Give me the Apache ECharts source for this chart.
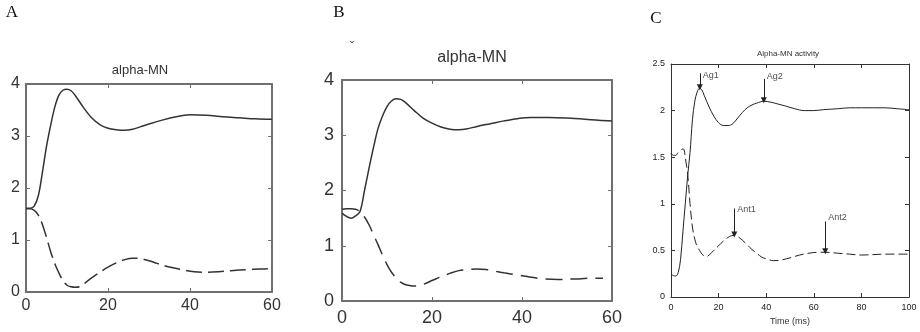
<!DOCTYPE html>
<html>
<head>
<meta charset="utf-8">
<script src="https://cdn.jsdelivr.net/npm/echarts@6/dist/echarts.min.js"></script>
<style>
  html, body { margin: 0; padding: 0; background: #fff; }
  #main { width: 920px; height: 332px; }
</style>
</head>
<body>
<div id="main"></div>
<script>
// panel A (0..60 ms)
const aX       = [0, 1, 2, 3, 4, 5, 6, 7, 8, 9, 10, 11, 12, 14, 16, 18, 20, 22, 24, 26, 28, 30, 33, 36, 40, 44, 48, 52, 56, 60]
const aSolid   = [1.61, 1.61, 1.65, 1.85, 2.3, 2.8, 3.2, 3.55, 3.78, 3.88, 3.9, 3.87, 3.78, 3.55, 3.35, 3.22, 3.15, 3.12, 3.11, 3.13, 3.18, 3.23, 3.3, 3.36, 3.41, 3.4, 3.37, 3.35, 3.33, 3.32]
const aDashX   = [0, 1, 2, 3, 4, 5, 6, 7, 8, 9, 10, 11, 12, 13, 14, 16, 18, 20, 22, 24, 26, 28, 30, 32, 35, 38, 41, 44, 47, 50, 54, 57, 60]
const aDashed  = [1.6, 1.6, 1.57, 1.48, 1.3, 1.05, 0.78, 0.55, 0.37, 0.22, 0.13, 0.1, 0.09, 0.1, 0.15, 0.27, 0.38, 0.48, 0.56, 0.62, 0.65, 0.64, 0.6, 0.55, 0.48, 0.43, 0.39, 0.38, 0.39, 0.41, 0.43, 0.44, 0.45]

// panel B (0..60 ms)
const bX       = [0, 1, 2, 3, 4, 5, 6, 7, 8, 9, 10, 11, 12, 13, 14, 16, 18, 20, 22, 24, 26, 28, 30, 33, 36, 39, 42, 46, 50, 54, 57, 60]
const bSolid   = [1.59, 1.53, 1.5, 1.54, 1.62, 2.0, 2.4, 2.78, 3.12, 3.35, 3.52, 3.62, 3.66, 3.65, 3.6, 3.45, 3.31, 3.22, 3.15, 3.11, 3.1, 3.12, 3.16, 3.21, 3.26, 3.3, 3.32, 3.32, 3.31, 3.29, 3.27, 3.26]
const bDashX   = [0, 1, 2, 3, 4, 5, 6, 7, 8, 9, 10, 11, 12, 13, 14, 15, 16, 18, 20, 22, 24, 26, 28, 30, 32, 34, 36, 39, 42, 45, 48, 52, 55, 58]
const bDashed  = [1.66, 1.67, 1.67, 1.66, 1.62, 1.52, 1.38, 1.2, 1.02, 0.83, 0.66, 0.52, 0.42, 0.34, 0.3, 0.28, 0.27, 0.3, 0.37, 0.44, 0.5, 0.55, 0.57, 0.58, 0.57, 0.54, 0.51, 0.47, 0.43, 0.4, 0.39, 0.4, 0.41, 0.41]

// panel C (0..100 ms)
const cX       = [0, 1, 2, 3, 4, 5, 6, 7, 8, 9, 10, 11, 12, 13, 14, 16, 18, 20, 22, 24, 26, 28, 30, 32, 34, 36, 39, 42, 45, 48, 52, 56, 60, 64, 70, 75, 80, 90, 95, 100]
const cSolid   = [0.24, 0.23, 0.225, 0.26, 0.4, 0.7, 1.0, 1.3, 1.55, 1.9, 2.1, 2.2, 2.24, 2.22, 2.16, 2.04, 1.94, 1.87, 1.84, 1.84, 1.86, 1.92, 1.98, 2.03, 2.06, 2.08, 2.1, 2.09, 2.07, 2.05, 2.02, 2.0, 2.0, 2.01, 2.02, 2.03, 2.03, 2.03, 2.02, 2.01]
const cDashX   = [0, 1, 2, 3, 4, 5, 5.5, 6, 7, 8, 9, 10, 11, 12, 13, 14, 15, 16, 18, 20, 22, 24, 26, 27, 28, 30, 32, 34, 36, 38, 40, 43, 46, 50, 54, 58, 62, 65, 70, 75, 80, 90, 100]
const cDashed  = [1.54, 1.52, 1.52, 1.55, 1.57, 1.59, 1.58, 1.5, 1.32, 1.0, 0.75, 0.62, 0.54, 0.5, 0.46, 0.44, 0.435, 0.45, 0.5, 0.55, 0.6, 0.64, 0.66, 0.66, 0.65, 0.61, 0.56, 0.51, 0.47, 0.43, 0.41, 0.39, 0.395, 0.42, 0.45, 0.47, 0.48, 0.48, 0.47, 0.46, 0.45, 0.46, 0.46]

// arrows in panel C
const arrowNames = ['Ag1', 'Ag2', 'Ant1', 'Ant2']
const arrowX     = [12.1, 39, 26.6, 64.8]
const arrowTop   = [2.4, 2.34, 0.95, 0.81]
const arrowTip   = [2.25, 2.11, 0.67, 0.49]
const arrowLabelY = [2.38, 2.37, 0.94, 0.85]

const zip = (xs, ys) => xs.map((x, i) => [x, ys[i]])

const sans = '"Liberation Sans", Arial, sans-serif'

// one framed box per panel: bottom/left axes with labels, top/right without
function boxAxes(grid, xMax, xStep, yMax, yStep, s) {
  const line = { show: true, onZero: false, lineStyle: { color: s.axisColor, width: s.axisWidth } }
  const tick = { show: true, inside: true, length: s.tickLen, lineStyle: { color: s.axisColor, width: 1 } }
  const label = { color: s.labelColor, fontFamily: sans, fontSize: s.fontSize, margin: s.margin }
  const base = { type: 'value', gridIndex: grid, splitLine: { show: false }, axisLine: line, axisTick: tick }
  return {
    x: [
      Object.assign({}, base, { position: 'bottom', min: 0, max: xMax, interval: xStep, axisLabel: label,
        name: s.xName || '', nameLocation: 'middle', nameGap: 20,
        nameTextStyle: { fontFamily: sans, fontSize: 9, color: '#333' } }),
      Object.assign({}, base, { position: 'top', min: 0, max: xMax, interval: xStep, axisLabel: { show: false } })
    ],
    y: [
      Object.assign({}, base, { position: 'left', min: 0, max: yMax, interval: yStep, axisLabel: label }),
      Object.assign({}, base, { position: 'right', min: 0, max: yMax, interval: yStep, axisLabel: { show: false } })
    ]
  }
}

const styleAB = { axisColor: '#707070', axisWidth: 2, tickLen: 4, labelColor: '#333', fontSize: 16, margin: 6 }
const boxA = boxAxes(0, 60, 20, 4, 1, styleAB)
const boxB = boxAxes(1, 60, 20, 4, 1, Object.assign({}, styleAB, { fontSize: 18, margin: 8 }))
const boxC = boxAxes(2, 100, 20, 2.5, 0.5, { axisColor: '#333', axisWidth: 1, tickLen: 4, labelColor: '#222', fontSize: 9, margin: 6, xName: 'Time (ms)' })

const curve = (name, xi, yi, data, color, width, type) => ({
  name, type: 'line', xAxisIndex: xi, yAxisIndex: yi, data,
  smooth: 0.35, showSymbol: false, symbol: 'none',
  lineStyle: { color, width, type }
})

const myChart = echarts.init(document.getElementById('main'), null, { renderer: 'canvas' })

const arrowLines = arrowNames.map((n, i) => [
  { coord: [arrowX[i], arrowTop[i]] },
  { coord: [arrowX[i], arrowTip[i]] }
])

const option = {
  animation: false,
  backgroundColor: '#fff',
  grid: [
    { left: 26, top: 84, width: 246, height: 208 },
    { left: 342, top: 80, width: 270, height: 221 },
    { left: 671, top: 64, width: 238, height: 233 }
  ],
  xAxis: [...boxA.x, ...boxB.x, ...boxC.x],
  yAxis: [...boxA.y, ...boxB.y, ...boxC.y],
  graphic: [
    { type: 'text', x: 12, y: 13, style: { text: 'A', font: '17px "Liberation Serif", serif', fill: '#111', align: 'center', verticalAlign: 'middle' } },
    { type: 'text', x: 339, y: 13, style: { text: 'B', font: '17px "Liberation Serif", serif', fill: '#111', align: 'center', verticalAlign: 'middle' } },
    { type: 'text', x: 656, y: 19, style: { text: 'C', font: '17px "Liberation Serif", serif', fill: '#111', align: 'center', verticalAlign: 'middle' } },
    { type: 'text', x: 352, y: 48, style: { text: 'ˇ', font: '12px "Liberation Sans", sans-serif', fill: '#444', align: 'center', verticalAlign: 'middle' } },
    { type: 'text', x: 140, y: 70, style: { text: 'alpha-MN', font: '13px "Liberation Sans", sans-serif', fill: '#333', align: 'center', verticalAlign: 'middle' } },
    { type: 'text', x: 472, y: 58, style: { text: 'alpha-MN', font: '16px "Liberation Sans", sans-serif', fill: '#333', align: 'center', verticalAlign: 'middle' } },
    { type: 'text', x: 788, y: 54, style: { text: 'Alpha-MN activity', font: '8px ' + sans, fill: '#333', align: 'center', verticalAlign: 'middle' } }
  ],
  series: [
    curve('A agonist', 0, 0, zip(aX, aSolid), '#333', 1.5, 'solid'),
    curve('A antagonist', 0, 0, zip(aDashX, aDashed), '#333', 1.5, [16, 6]),
    curve('B agonist', 2, 2, zip(bX, bSolid), '#333', 1.5, 'solid'),
    curve('B antagonist', 2, 2, zip(bDashX, bDashed), '#333', 1.5, [17, 8]),
    Object.assign(curve('C agonist', 4, 4, zip(cX, cSolid), '#222', 1, 'solid'), {
      markLine: {
        silent: true, symbol: ['none', 'triangle'], symbolSize: [6, 6],
        label: { show: false },
        lineStyle: { color: '#222', width: 1, type: 'solid' },
        data: arrowLines
      }
    }),
    curve('C antagonist', 4, 4, zip(cDashX, cDashed), '#222', 1, [9, 4]),
    {
      name: 'C labels', type: 'scatter', xAxisIndex: 4, yAxisIndex: 4,
      symbolSize: 0, silent: true,
      data: arrowNames.map((n, i) => ({ name: n, value: [arrowX[i], arrowLabelY[i]] })),
      label: { show: true, position: 'right', distance: 3, formatter: p => p.name,
        fontFamily: sans, fontSize: 9, color: '#222' }
    }
  ]
}

option && myChart.setOption(option)
</script>
</body>
</html>
